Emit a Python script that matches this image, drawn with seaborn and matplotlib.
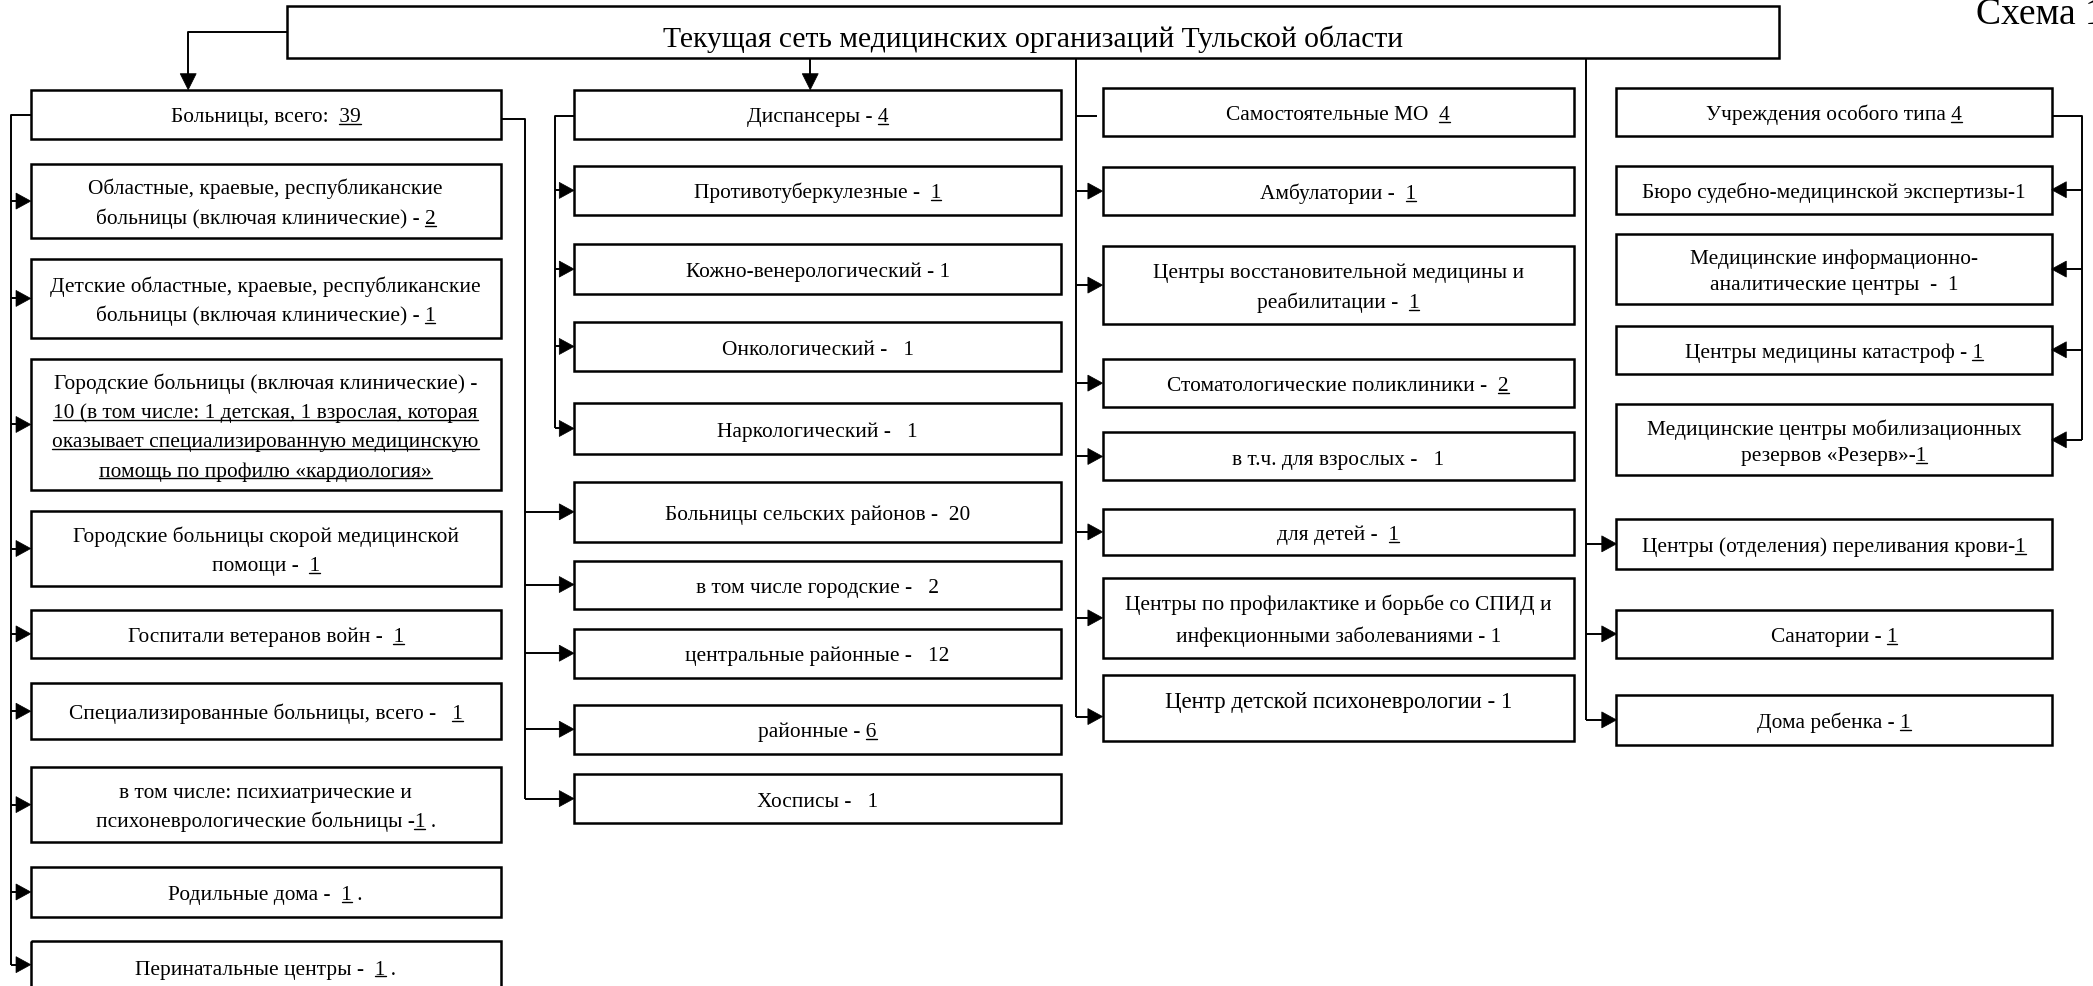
import matplotlib
matplotlib.use("Agg")
import matplotlib.pyplot as plt
import seaborn as sns
from matplotlib.patches import Rectangle, Polygon
from matplotlib.font_manager import FontProperties

# ---------------- content (text with [..] = underlined part) ----------------
title = "Текущая сеть медицинских организаций Тульской области"
scheme_label = "Схема 1"

hospital_labels = [
    ["Больницы, всего:  [39]"],
    ["Областные, краевые, республиканские", "больницы (включая клинические) - [2]"],
    ["Детские областные, краевые, республиканские", "больницы (включая клинические) - [1]"],
    ["Городские больницы (включая клинические) -",
     "[10 (в том числе: 1 детская, 1 взрослая, которая]",
     "[оказывает специализированную медицинскую]",
     "[помощь по профилю «кардиология»]"],
    ["Городские больницы скорой медицинской", "помощи -  [1]"],
    ["Госпитали ветеранов войн -  [1]"],
    ["Специализированные больницы, всего -   [1]"],
    ["в том числе: психиатрические и", "психоневрологические больницы -[1] ."],
    ["Родильные дома -  [1] ."],
    ["Перинатальные центры -  [1] ."],
]
dispensary_labels = [
    ["Диспансеры - [4]"],
    ["Противотуберкулезные -  [1]"],
    ["Кожно-венерологический - 1"],
    ["Онкологический -   1"],
    ["Наркологический -   1"],
    ["Больницы сельских районов -  20"],
    ["в том числе городские -   2"],
    ["центральные районные -   12"],
    ["районные - [6]"],
    ["Хосписы -   1"],
]
independent_labels = [
    ["Самостоятельные МО  [4]"],
    ["Амбулатории -  [1]"],
    ["Центры восстановительной медицины и", "реабилитации -  [1]"],
    ["Стоматологические поликлиники -  [2]"],
    ["в т.ч. для взрослых -   1"],
    ["для детей -  [1]"],
    ["Центры по профилактике и борьбе со СПИД и", "инфекционными заболеваниями - 1"],
    ["Центр детской психоневрологии - 1"],
]
special_labels = [
    ["Учреждения особого типа [4]"],
    ["Бюро судебно-медицинской экспертизы-1"],
    ["Медицинские информационно-", "аналитические центры  -  1"],
    ["Центры медицины катастроф - [1]"],
    ["Медицинские центры мобилизационных", "резервов «Резерв»-[1]"],
    ["Центры (отделения) переливания крови-[1]"],
    ["Санатории - [1]"],
    ["Дома ребенка - [1]"],
]

# ---------------- layout (canvas units, 1568 x 740) ----------------
W, H = 1568, 740
col_x = {"hosp": (23, 375), "disp": (430, 795), "ind": (826, 1179), "spec": (1211, 1537)}
hosp_y = [(68, 105), (124, 179), (195, 254), (270, 368), (384, 440), (458, 494),
          (513, 555), (576, 632), (651, 688), (706, 745)]
disp_y = [(68, 105), (125, 162), (184, 221), (242, 279), (303, 341), (362, 407),
          (421, 457), (472, 509), (529, 566), (581, 618)]
ind_y = [(67, 103), (126, 162), (185, 244), (270, 306), (325, 361), (382, 417),
         (434, 494), (507, 556)]
spec_y = [(67, 103), (125, 161), (176, 229), (245, 281), (304, 357), (390, 427),
          (458, 494), (522, 559)]

FS = 15.4
PITCH = 22
BOX_LW = 1.8

sns.set_theme(style="white")
plt.rcParams["font.family"] = ["Liberation Serif", "DejaVu Serif"]

fig = plt.figure(figsize=(20.93, 9.87), dpi=100)
ax = fig.add_axes([0, 0, 1, 1])
ax.set_xlim(0, W)
ax.set_ylim(H, 0)
ax.axis("off")
fig.patch.set_facecolor("white")
renderer = fig.canvas.get_renderer()
PX = 2093 / W


def tw(s, fp):
    w, h, d = renderer.get_text_width_height_descent(s, fp, ismath=False)
    return w / PX


def parse(s):
    segs = []
    cur, ul = "", False
    for ch in s:
        if ch == "[":
            if cur:
                segs.append((cur, ul))
            cur, ul = "", True
        elif ch == "]":
            segs.append((cur, ul))
            cur, ul = "", False
        else:
            cur += ch
    if cur:
        segs.append((cur, ul))
    return segs


def draw_text_line(s, cx, cy, fs):
    fp = FontProperties(family=["Liberation Serif"], size=fs)
    segs = parse(s)
    plain = "".join(t for t, _ in segs)
    em = fs * 100 / 72 / PX
    base = cy + 0.33 * em
    ax.text(cx, base, plain, ha="center", va="baseline", fontproperties=fp, color="black")
    total = tw(plain, fp)
    left = cx - total / 2
    prefix = ""
    for t, ul in segs:
        if ul:
            end = left + tw(prefix + t, fp)
            start = end - tw(t, fp)
            ax.plot([start, end], [base + 0.13 * em, base + 0.13 * em], color="black", lw=1.0)
        prefix += t


def draw_box(x0, x1, y0, y1, lines, fs=FS, pitch=PITCH, dy=0):
    ax.add_patch(Rectangle((x0, y0), x1 - x0, y1 - y0, fill=False, ec="black", lw=BOX_LW))
    cx = (x0 + x1) / 2
    cy = (y0 + y1) / 2 + dy
    n = len(lines)
    for i, ln in enumerate(lines):
        draw_text_line(ln, cx, cy + (i - (n - 1) / 2) * pitch, fs)


def line(xs, ys, lw=1.4):
    ax.plot(xs, ys, color="black", lw=lw, solid_capstyle="butt")


def arrow_right(tip_x, y, L=11, hw=6):
    ax.add_patch(Polygon([(tip_x, y), (tip_x - L, y - hw), (tip_x - L, y + hw)], closed=True,
                         fc="black", ec="black", lw=0.5))


def arrow_left(tip_x, y, L=11, hw=6):
    ax.add_patch(Polygon([(tip_x, y), (tip_x + L, y - hw), (tip_x + L, y + hw)], closed=True,
                         fc="black", ec="black", lw=0.5))


def arrow_down(x, tip_y, L=12, hw=6):
    ax.add_patch(Polygon([(x, tip_y), (x - hw, tip_y - L), (x + hw, tip_y - L)], closed=True,
                         fc="black", ec="black", lw=0.5))


def mid(y):
    return (y[0] + y[1]) / 2


# ---------------- title ----------------
ax.add_patch(Rectangle((215, 5), 1333 - 215, 44 - 5, fill=False, ec="black", lw=BOX_LW))
ax.text(774, 35, title, ha="center", va="baseline", fontsize=21.3, color="black")
ax.text(1480, 18, scheme_label, ha="left", va="baseline", fontsize=27, color="black")

# ---------------- boxes ----------------
for lbl, yy in zip(hospital_labels, hosp_y):
    draw_box(*col_x["hosp"], *yy, lbl)
for lbl, yy in zip(dispensary_labels, disp_y):
    draw_box(*col_x["disp"], *yy, lbl)
for i, (lbl, yy) in enumerate(zip(independent_labels, ind_y)):
    if i == len(independent_labels) - 1:
        draw_box(*col_x["ind"], *yy, lbl, fs=16.5, dy=-6)
    else:
        draw_box(*col_x["ind"], *yy, lbl, pitch=24 if i == 6 else PITCH)
for lbl, yy in zip(special_labels, spec_y):
    draw_box(*col_x["spec"], *yy, lbl, pitch=20 if len(lbl) > 1 else PITCH)

# ---------------- connectors ----------------
# title -> hospitals
line([215, 141, 141], [25, 25, 57])
arrow_down(141, 68)
# title -> dispensaries
line([607, 607], [44, 57])
arrow_down(607, 68)

# hospitals left bus
bx = 8
ys = [mid(y) for y in hosp_y[1:]]
ys[-1] = 724
line([col_x["hosp"][0], bx, bx], [87, 87, ys[-1]])
for y in ys:
    line([bx, col_x["hosp"][0] - 9], [y, y])
    arrow_right(col_x["hosp"][0], y)

# hospitals right bus -> rural hospitals etc.
rx = 393
ys = [mid(y) for y in disp_y[5:]]
line([col_x["hosp"][1], rx, rx], [90, 90, ys[-1]])
for y in ys:
    line([rx, col_x["disp"][0] - 9], [y, y])
    arrow_right(col_x["disp"][0], y)

# dispensaries bus
dx = 416
ys = [mid(y) for y in disp_y[1:5]]
line([col_x["disp"][0], dx, dx], [88, 88, ys[-1]])
for y in ys:
    line([dx, col_x["disp"][0] - 9], [y, y])
    arrow_right(col_x["disp"][0], y)

# independent MO bus (from title)
ix = 806
ys = [mid(y) for y in ind_y[1:]]
ys[-1] = 538
line([ix, ix], [44, ys[-1]])
line([ix, 822], [88, 88])
for y in ys:
    line([ix, col_x["ind"][0] - 9], [y, y])
    arrow_right(col_x["ind"][0], y)

# special institutions right bus
sx = 1560
ys = [mid(y) for y in spec_y[1:5]]
line([col_x["spec"][1], sx, sx], [88, 88, ys[-1]])
for y in ys:
    line([sx, col_x["spec"][1] + 9], [y, y])
    arrow_left(col_x["spec"][1], y)

# title -> lower special boxes
ox = 1188
ys = [mid(y) for y in spec_y[5:]]
line([ox, ox], [44, ys[-1]])
for y in ys:
    line([ox, col_x["spec"][0] - 9], [y, y])
    arrow_right(col_x["spec"][0], y)

fig.savefig("out.png", dpi=100, facecolor="white")
